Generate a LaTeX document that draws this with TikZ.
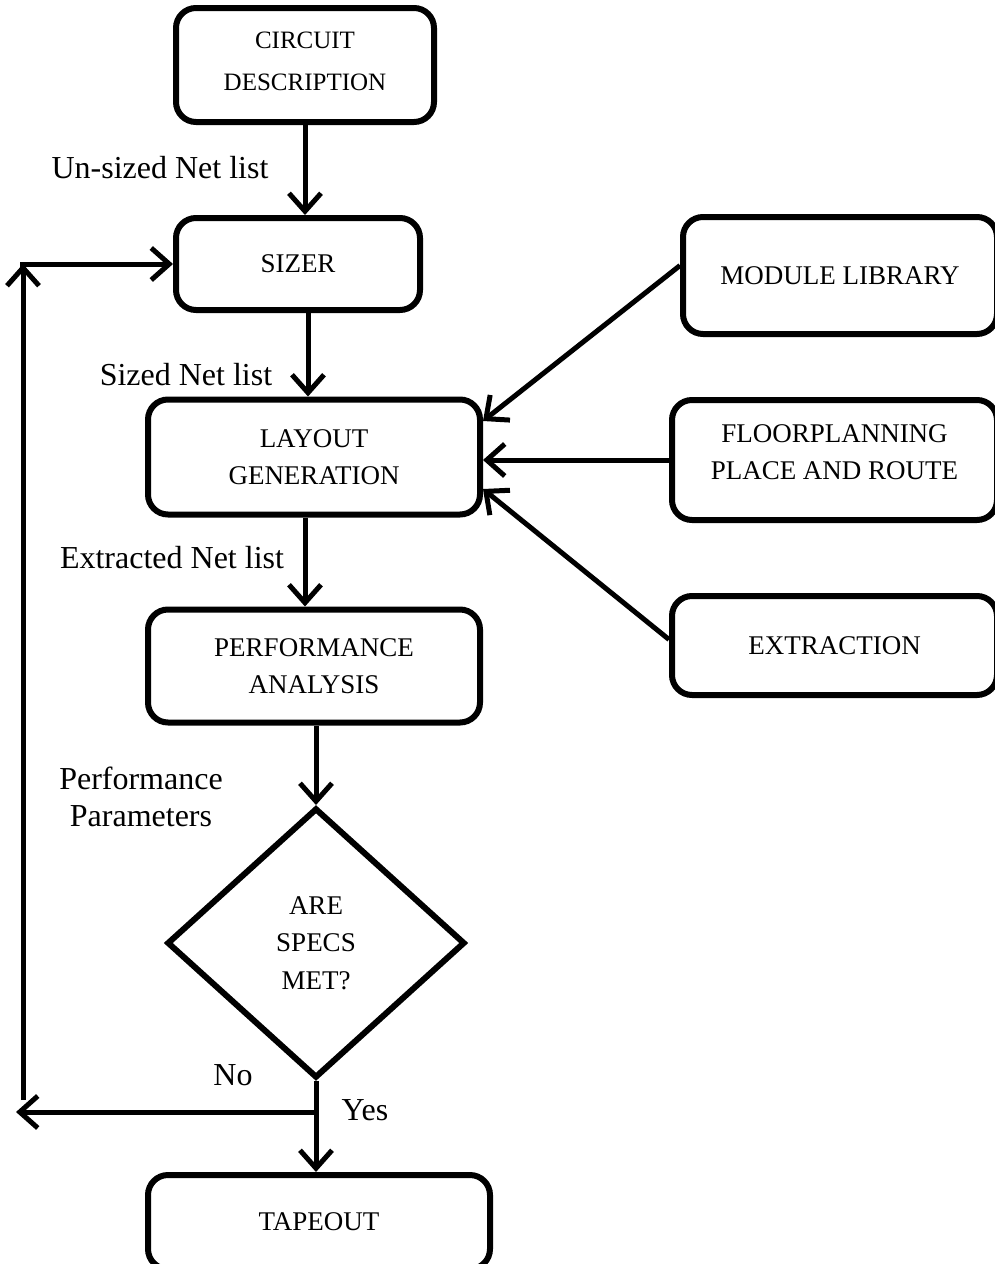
\documentclass[tikz,border=0pt]{standalone}
\usepackage{fontspec}
\setmainfont{Liberation Serif}
\usepackage{tikz}
\usetikzlibrary{arrows.meta,positioning,shapes.geometric,calc}

\begin{document}
\begin{tikzpicture}[
        x=0.5pt, y=-0.5pt,
        box/.style={rounded corners=10pt, draw=black, line width=3pt, align=center, inner sep=2pt, font=\fontsize{13.5}{18.5}\selectfont},
        decide/.style={diamond, draw=black, line width=3pt, align=center, inner sep=0pt, minimum width=149pt, minimum height=135pt, font=\fontsize{13.5}{18.8}\selectfont},
        arr/.style={line width=2.5pt, -{Straight Barb[length=9pt, width=16pt, line width=2.5pt]}},
        lbl/.style={font=\fontsize{16}{18.5}\selectfont, align=center}
      ]
        \useasboundingbox (0,0) rectangle (995,1264);
        % main flow
        \node[box, minimum width=129pt, minimum height=57pt, font=\fontsize{12.5}{21}\selectfont, text depth=3.5pt] (cd) at (305,65) {CIRCUIT\\DESCRIPTION};
        \node[box, minimum width=122pt, minimum height=46pt] (sizer) at (298,264) {SIZER};
        \node[box, minimum width=166pt, minimum height=57.5pt] (layout) at (314,457) {LAYOUT\\GENERATION};
        \node[box, minimum width=166pt, minimum height=56.5pt] (perf) at (314,666) {PERFORMANCE\\ANALYSIS};
        \node[decide] (specs) at (316,943) {ARE\\SPECS\\MET?};
        \node[box, minimum width=171pt, minimum height=47pt] (tape) at (319,1222) {TAPEOUT};
        % tools on the right
        \node[box, minimum width=157pt, minimum height=58.5pt] (modlib) at (840,275.5) {MODULE LIBRARY};
        \node[box, minimum width=162.5pt, minimum height=60pt, text depth=8pt] (floor) at (834.5,460) {FLOORPLANNING\\PLACE AND ROUTE};
        \node[box, minimum width=162.5pt, minimum height=49.5pt] (extr) at (834.5,645.5) {EXTRACTION};

        \draw[arr] (cd.south) -- (cd.south |- sizer.north);
        \draw[arr] ([xshift=5pt]sizer.south) -- ([xshift=5pt]sizer.south |- layout.north);
        \draw[arr] ([xshift=-4.5pt]layout.south) -- ([xshift=-4.5pt]layout.south |- perf.north);
        \draw[arr] ([xshift=1pt]perf.south) -- ([xshift=1pt]perf.south |- specs.north);
        \draw[arr] (specs.south) -- (specs.south |- tape.north);

        \draw[arr] ([yshift=5pt]modlib.west) -- ([yshift=18pt]layout.east);
        \draw[arr] (floor.west) -- (floor.west -| layout.east);
        \draw[arr] ([yshift=3pt]extr.west) -- ([yshift=-16pt]layout.east);

        % loop back when specs fail
        \coordinate (brk) at (316,1112);
        \coordinate (noend) at (16,1112);
        \coordinate (nobot) at (23,1100);
        \coordinate (notop) at (23,264);
        \draw[arr] (brk) -- (noend);
        \draw[arr] (nobot) -- (notop);
        \draw[arr] ([xshift=-1.5pt]notop) -- (sizer.west);

        \node[lbl] (unsized) at (160,168) {Un-sized Net list};
        \node[lbl] (sized) at (186,375) {Sized Net list};
        \node[lbl] (extracted) at (172,558) {Extracted Net list};
        \node[lbl] (params) at (141,797) {Performance\\Parameters};
        \node[lbl] (no) at (233,1075) {No};
        \node[lbl] (yes) at (365,1110) {Yes};
      \end{tikzpicture}
\end{document}
